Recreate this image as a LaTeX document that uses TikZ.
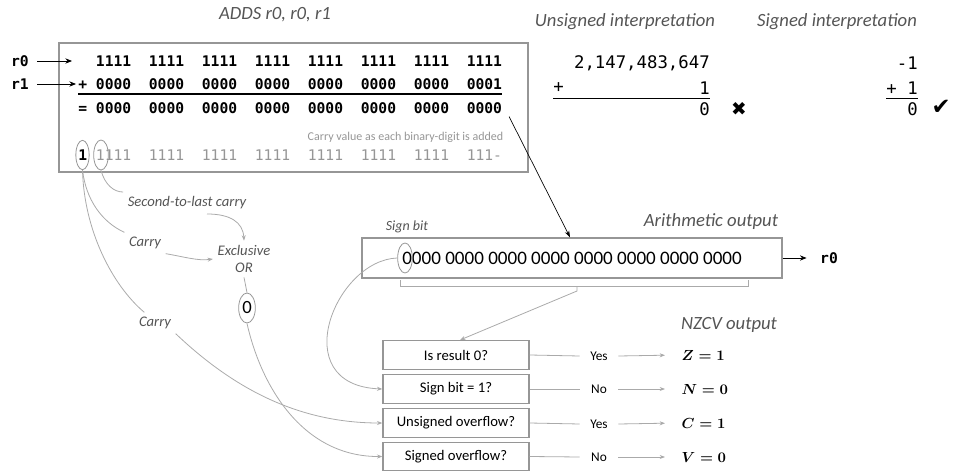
\documentclass[tikz,border=0pt]{standalone}
\usepackage{fontspec}
\usepackage{amsmath}
\usetikzlibrary{positioning, arrows.meta, shapes.geometric, calc}
\setmainfont{Carlito}
\newfontfamily\codefont{DejaVu Sans Mono}
\newfontfamily\symbfont{DejaVu Sans}
\definecolor{txtGray}{RGB}{85, 85, 85}
\definecolor{lineGray}{RGB}{170, 170, 170}
\definecolor{boxGray}{RGB}{150, 150, 150}
\definecolor{carryGray}{RGB}{150, 150, 150}

\begin{document}
\begin{tikzpicture}[
    x=0.75pt, y=-0.75pt,
    heading/.style={font=\fontsize{14}{16}\selectfont\itshape, text=txtGray},
    note/.style={font=\fontsize{11}{12.75}\selectfont\itshape, text=txtGray},
    binrow/.style={font=\codefont\bfseries\fontsize{11}{13}\selectfont, anchor=west, inner sep=0pt},
    num/.style={font=\codefont\fontsize{13}{15}\selectfont, anchor=east, inner sep=0pt},
    panel/.style={rectangle, draw=boxGray, line width=1pt},
    bitring/.style={ellipse, draw=boxGray, line width=0.6pt, inner sep=0pt},
    question/.style={rectangle, draw=boxGray, line width=1pt, minimum width=109.5pt, minimum height=21.5pt, inner sep=0pt, font=\fontsize{11}{13}\selectfont},
    ans/.style={minimum width=28.5pt, inner sep=0pt, font=\fontsize{10}{12}\selectfont},
    flagout/.style={anchor=west, font=\fontsize{11}{13}\selectfont},
    link/.style={lineGray, line width=0.6pt},
    arr/.style={link, -{Stealth[length=4pt, width=3pt]}},
    blk/.style={-{Stealth[length=5pt, width=4pt]}, line width=0.6pt, black}
]
\useasboundingbox (0,0) rectangle (954,471);

% addition panel
\node[heading] (adds) at (275,15) {ADDS r0, r0, r1};
\node[panel, minimum width=351.75pt, minimum height=96.75pt] (sumbox) at (293.5,107.5) {};
\node[binrow] (row1) at (78,61) {~~1111~~1111~~1111~~1111~~1111~~1111~~1111~~1111};
\node[binrow] (row2) at (78,84) {+~0000~~0000~~0000~~0000~~0000~~0000~~0000~~0001};
\node[binrow] (row3) at (78,108) {=~0000~~0000~~0000~~0000~~0000~~0000~~0000~~0000};
\draw[line width=1.1pt] ($(row2.south west)+(0,4)$) -- ($(row2.south east)+(0,4)$);
\node[anchor=east, font=\fontsize{9}{11}\selectfont, text=carryGray] (carrynote) at (508,137) {Carry value as each binary-digit is added};
\node[binrow, font=\codefont\fontsize{11}{13}\selectfont, text=carryGray] (carries) at (78,155) {\textcolor{black}{\bfseries 1}~1111~~1111~~1111~~1111~~1111~~1111~~1111~~111-};
\node[bitring, minimum width=10pt, minimum height=22pt] (c1) at (82.5,155) {};
\node[bitring, minimum width=11pt, minimum height=22.5pt] (c2) at (101,155) {};

\node[binrow, anchor=center] (r0in) at (20,61) {r0};
\node[binrow, anchor=center] (r1in) at (20,84) {r1};
\draw[blk, shorten <=6pt] (r0in.east) -- ([xshift=-4.5pt]row1.west);
\draw[blk, shorten <=6pt] (r1in.east) -- ([xshift=-1.5pt]row2.west);

% interpretations
\node[heading] (uns) at (625,22) {Unsigned interpretation};
\node[heading] (sgn) at (837,22) {Signed interpretation};
\node[num] (ua) at (710,63) {2,147,483,647};
\node[num, anchor=west] (uplus) at (553,88) {+};
\node[num] (ub) at (710,88) {1};
\node[num] (ures) at (710,109) {0};
\node[font=\symbfont\fontsize{14}{16}\selectfont] (cross) at (739,109) {✖};
\draw[line width=1.1pt] ($(uplus.west |- ub.south)+(0,4)$) -- ($(ub.south east)+(0,4)$);
\node[num] (sa) at (918,63) {-1};
\node[num] (sb) at (918,88) {+~1};
\node[num] (sres) at (918,109) {0};
\node[font=\symbfont\fontsize{17}{19}\selectfont] (tick) at (941,107) {✔};
\draw[line width=1.1pt] ($(sb.west |- ub.south)+(0,4)$) -- ($(sb.east |- ub.south)+(0,4)$);

% arithmetic output
\node[heading] (arithlbl) at (711,222) {Arithmetic output};
\node[note, font=\fontsize{10.5}{12}\selectfont\itshape] (signlbl) at (407,227) {Sign bit};
\node[panel, minimum width=315pt, minimum height=30pt, font=\fontsize{14.3}{16}\selectfont] (arith) at (572,258) {0000 0000 0000 0000 0000 0000 0000 0000};
\node[bitring, minimum width=11pt, minimum height=22.5pt] (sbit) at (405,258) {};
\node[binrow, anchor=center] (r0out) at (829,258) {r0};
\draw[blk, shorten >=10pt] (arith.east) -- (r0out.west);
\draw[line width=0.5pt, -{Stealth[length=5pt, width=3.5pt]}] ([xshift=5pt, yshift=-2pt]row3.south east) -- ([xshift=-1.5pt]arith.north);

\coordinate (brL) at (400,280);
\coordinate (brR) at (748,280);
\coordinate (brmid) at (577,286);
\draw[link] (brL) -- ++(0,6) -- ($(brR)+(0,6)$) -- (brR);

% flag questions
\node[heading] (nzcv) at (729,325) {NZCV output};
\node[question] (q1) at (456,355) {Is result 0?};
\node[question] (q2) at (456,389) {Sign bit = 1?};
\node[question] (q3) at (456,423) {Unsigned overflow?};
\node[question] (q4) at (456,456.5) {Signed overflow?};
\draw[arr] (brmid) -- ++(0,5) -- ([xshift=3pt]q1.north);

\node[ans] (a1) at (599,356) {Yes};
\node[ans] (a2) at (599,389) {No};
\node[ans] (a3) at (599,424) {Yes};
\node[ans] (a4) at (599,457) {No};
\node[flagout] (o1) at (677,355) {$\boldsymbol{Z=1}$};
\node[flagout] (o2) at (677,389) {$\boldsymbol{N=0}$};
\node[flagout] (o3) at (677,423) {$\boldsymbol{C=1}$};
\node[flagout] (o4) at (677,457) {$\boldsymbol{V=0}$};
\foreach \i in {1,...,4} {
  \draw[link] (q\i.east) -- (a\i.west);
  \draw[arr, shorten >=9pt] (a\i.east) -- (o\i.west);
}

% carries into the exclusive or
\node[note] (stl) at (187,203) {Second-to-last carry};
\node[note] (cy1) at (145,243) {Carry};
\node[note, align=center] (xor) at (244,259) {Exclusive\\OR};
\node[bitring, minimum width=12.5pt, minimum height=22.5pt, font=\fontsize{14}{16}\selectfont] (xorout) at (247,308) {0};
\node[note] (cy2) at (155,323) {Carry};

\draw[link] (c2.south) .. controls (105,185) and (114,192) .. (stl.north west);
\draw[arr] ([xshift=15pt]stl.south) .. controls (230,214) and (243,222) .. (xor.north);
\draw[link] (c1.south) .. controls (86,200) and (102,222) .. (cy1.north west);
\draw[arr] (cy1.south east) .. controls (185,257) and (198,261) .. (xor.west);
\draw[link] (xor.south) -- (xorout.north);
\draw[link] (c1.south) .. controls (84,230) and (112,285) .. ([xshift=-8pt]cy2.north);
\draw[arr] (cy2.south east) .. controls (235,390) and (300,423) .. (q3.west);
\draw[arr] (xorout.south) .. controls (262,390) and (305,457) .. (q4.west);
\draw[arr] (sbit.west) .. controls (335,260) and (285,385) .. (q2.west);
\end{tikzpicture}
\end{document}
